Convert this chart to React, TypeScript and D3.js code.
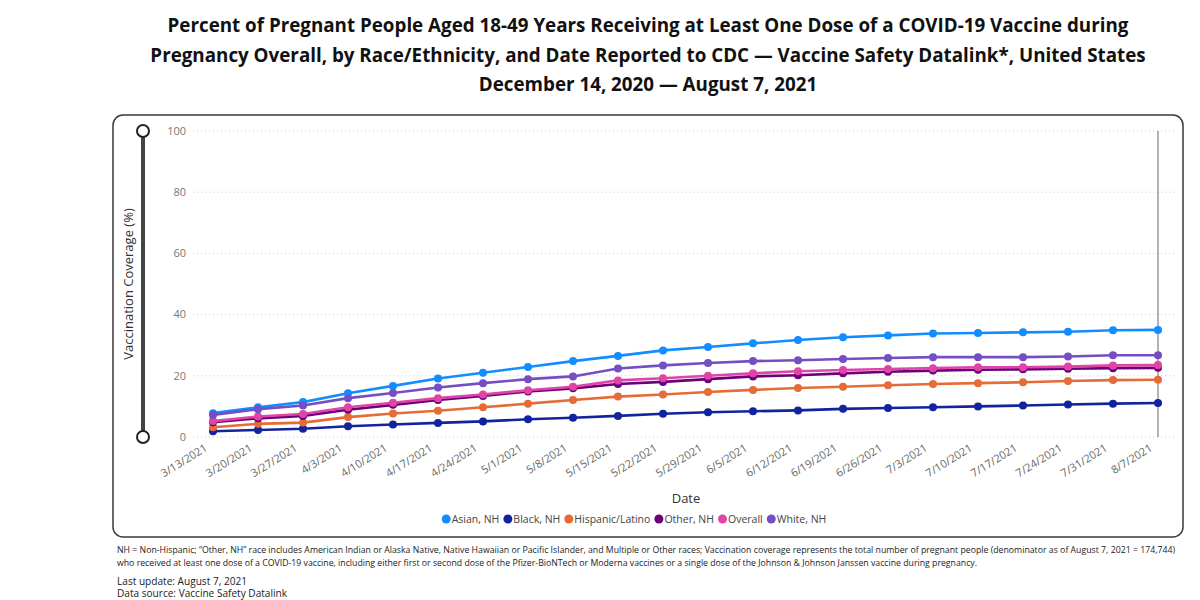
import { useEffect, useRef } from "react";
import * as d3 from "d3";

const width = 1200;
const height = 600;
const plot = { left: 213, right: 1158, top: 131, bottom: 437 };

const titleLines = [
  "Percent of Pregnant People Aged 18-49 Years Receiving at Least One Dose of a COVID-19 Vaccine during",
  "Pregnancy Overall, by Race/Ethnicity, and Date Reported to CDC — Vaccine Safety Datalink*, United States",
  "December 14, 2020 — August 7, 2021",
];

const dates = [
  "3/13/2021", "3/20/2021", "3/27/2021", "4/3/2021", "4/10/2021", "4/17/2021",
  "4/24/2021", "5/1/2021", "5/8/2021", "5/15/2021", "5/22/2021", "5/29/2021",
  "6/5/2021", "6/12/2021", "6/19/2021", "6/26/2021", "7/3/2021", "7/10/2021",
  "7/17/2021", "7/24/2021", "7/31/2021", "8/7/2021",
];

const yTicks = [0, 20, 40, 60, 80, 100];

const asianNH = [7.8, 9.7, 11.4, 14.3, 16.7, 19.1, 21.0, 22.9, 24.8, 26.5, 28.3, 29.4, 30.6, 31.7, 32.6, 33.2, 33.8, 34.0, 34.2, 34.4, 34.9, 35.0];
const blackNH = [1.9, 2.3, 2.7, 3.5, 4.1, 4.6, 5.1, 5.8, 6.3, 6.9, 7.6, 8.1, 8.4, 8.7, 9.2, 9.5, 9.7, 10.0, 10.3, 10.6, 10.9, 11.1];
const hispanic = [3.2, 4.3, 4.7, 6.5, 7.7, 8.6, 9.7, 10.9, 12.1, 13.2, 13.9, 14.7, 15.4, 16.0, 16.4, 16.9, 17.3, 17.6, 17.9, 18.3, 18.6, 18.7];
const otherNH = [4.8, 6.1, 6.9, 8.9, 10.5, 12.1, 13.4, 14.9, 15.9, 17.3, 18.0, 18.9, 19.8, 20.2, 20.8, 21.3, 21.7, 22.0, 22.1, 22.3, 22.5, 22.6];
const overall = [5.2, 6.7, 7.5, 9.7, 11.2, 12.7, 13.9, 15.3, 16.4, 18.5, 19.2, 20.0, 20.8, 21.5, 21.9, 22.2, 22.5, 22.8, 22.8, 23.0, 23.4, 23.5];
const whiteNH = [7.2, 9.1, 10.3, 12.7, 14.4, 16.2, 17.6, 18.9, 19.8, 22.4, 23.4, 24.2, 24.8, 25.1, 25.5, 25.8, 26.1, 26.1, 26.1, 26.3, 26.7, 26.7];

const seriesNames = ["Asian, NH", "Black, NH", "Hispanic/Latino", "Other, NH", "Overall", "White, NH"];
const seriesColors = ["#118DFF", "#12239E", "#E66C37", "#6B007B", "#E044A7", "#744EC2"];
const seriesValues = [asianNH, blackNH, hispanic, otherNH, overall, whiteNH];

const footnoteLines = [
  "NH = Non-Hispanic; \u201COther, NH\u201D race includes American Indian or Alaska Native, Native Hawaiian or Pacific Islander, and Multiple or Other races; Vaccination coverage represents the total number of pregnant people (denominator as of August 7, 2021 = 174,744)",
  "who received at least one dose of a COVID-19 vaccine, including either first or second dose of the Pfizer-BioNTech or Moderna vaccines or a single dose of the Johnson & Johnson Janssen vaccine during pregnancy.",
];

type Series = { name: string; color: string; values: number[] };

const font = "'Open Sans', 'Noto Sans', sans-serif";

export default function App() {
  const svgRef = useRef<SVGSVGElement | null>(null);

  const series: Series[] = seriesNames.map((name, i) => ({
    name,
    color: seriesColors[i],
    values: seriesValues[i],
  }));

  useEffect(() => {
    document.body.style.margin = "0";
    if (!svgRef.current) return;
    const svg = d3.select(svgRef.current);

    const x = d3.scalePoint<string>().domain(dates).range([plot.left, plot.right]);
    const y = d3.scaleLinear().domain([0, 100]).range([plot.bottom, plot.top]);

    // 格線 + y 軸數字
    const grid = svg.select<SVGGElement>(".grid");
    grid.selectAll("*").remove();
    grid
      .selectAll("line")
      .data(yTicks)
      .join("line")
      .attr("x1", 193)
      .attr("x2", 1176)
      .attr("y1", (d) => y(d))
      .attr("y2", (d) => y(d))
      .attr("stroke", "#c8c8c8")
      .attr("stroke-width", 1)
      .attr("stroke-dasharray", "1,3");
    grid
      .selectAll("text")
      .data(yTicks)
      .join("text")
      .attr("x", 186)
      .attr("y", (d) => y(d))
      .attr("dy", "0.35em")
      .attr("text-anchor", "end")
      .attr("fill", "#777")
      .style("font-family", font)
      .style("font-size", "11px")
      .text((d) => d);

    // x 軸標籤 (斜放)
    svg
      .select<SVGGElement>(".x-labels")
      .selectAll("text")
      .data(dates)
      .join("text")
      .attr("transform", (d) => `translate(${(x(d) ?? 0) - 5}, 450) rotate(-32)`)
      .attr("text-anchor", "end")
      .attr("fill", "#666")
      .style("font-family", font)
      .style("font-size", "11px")
      .text((d) => d);

    // 折線
    const line = d3
      .line<number>()
      .x((_, i) => x(dates[i]) ?? 0)
      .y((d) => y(d));

    const groups = svg
      .select<SVGGElement>(".series")
      .selectAll<SVGGElement, Series>("g")
      .data(series, (d) => d.name)
      .join("g");

    groups
      .selectAll("path")
      .data((d) => [d])
      .join("path")
      .attr("d", (d) => line(d.values))
      .attr("fill", "none")
      .attr("stroke", (d) => d.color)
      .attr("stroke-width", 2.6);

    groups
      .selectAll("circle")
      .data((d) => d.values.map((v, i) => ({ v, i, color: d.color })))
      .join("circle")
      .attr("cx", (d) => x(dates[d.i]) ?? 0)
      .attr("cy", (d) => y(d.v))
      .attr("r", 4)
      .attr("fill", (d) => d.color);

    // 圖例
    const legend = svg.select<SVGGElement>(".legend");
    legend.selectAll("*").remove();
    let cursor = 0;
    series.forEach((s) => {
      const item = legend.append("g").attr("transform", `translate(${cursor}, 0)`);
      item.append("circle").attr("cx", 4.5).attr("cy", 0).attr("r", 4.5).attr("fill", s.color);
      const t = item
        .append("text")
        .attr("x", 10)
        .attr("dy", "0.35em")
        .attr("fill", "#444")
        .style("font-family", font)
        .style("font-size", "10.5px")
        .text(s.name);
      const w = (t.node() as SVGTextElement).getComputedTextLength();
      cursor += 10 + w + 4;
    });
    legend.attr("transform", `translate(${636 - cursor / 2}, 519)`);
  }, []);

  return (
    <svg
      ref={svgRef}
      width={width}
      height={height}
      viewBox={`0 0 ${width} ${height}`}
      style={{ display: "block", background: "#fff" }}
    >
      {titleLines.map((t, i) => (
        <text
          key={i}
          x={648}
          y={32 + i * 29.5}
          textAnchor="middle"
          fontFamily={font}
          fontWeight={700}
          fontSize={18.8}
          fill="#111"
        >
          {t}
        </text>
      ))}

      <rect x={113} y={115} width={1070} height={422} rx={10} fill="#fff" stroke="#3a3a3a" strokeWidth={1.5} />

      {/* 左側滑桿 */}
      <line x1={143} x2={143} y1={plot.top} y2={plot.bottom} stroke="#444" strokeWidth={4} />
      <circle cx={143} cy={plot.top} r={6} fill="#fff" stroke="#222" strokeWidth={2} />
      <circle cx={143} cy={plot.bottom} r={6} fill="#fff" stroke="#222" strokeWidth={2} />

      <text
        transform={`translate(133, ${(plot.top + plot.bottom) / 2}) rotate(-90)`}
        textAnchor="middle"
        fontFamily={font}
        fontSize={13}
        fill="#333"
      >
        Vaccination Coverage (%)
      </text>

      <g className="grid" />
      <line x1={plot.right} x2={plot.right} y1={plot.top} y2={plot.bottom} stroke="#666" strokeWidth={1} />
      <g className="x-labels" />
      <g className="series" />

      <text x={686} y={503} textAnchor="middle" fontFamily={font} fontSize={13} fill="#333">
        Date
      </text>

      <g className="legend" />

      {footnoteLines.map((t, i) => (
        <text
          key={i}
          x={117}
          y={553 + i * 13}
          fontFamily={font}
          fontSize={8.4}
          fill="#222"
          textLength={i === 0 ? 1058 : 860}
          lengthAdjust="spacingAndGlyphs"
        >
          {t}
        </text>
      ))}
      <text x={117} y={585} fontFamily={font} fontSize={10} fill="#222" textLength={130} lengthAdjust="spacingAndGlyphs">
        Last update: August 7, 2021
      </text>
      <text x={117} y={597} fontFamily={font} fontSize={10} fill="#222" textLength={170} lengthAdjust="spacingAndGlyphs">
        Data source: Vaccine Safety Datalink
      </text>
    </svg>
  );
}
